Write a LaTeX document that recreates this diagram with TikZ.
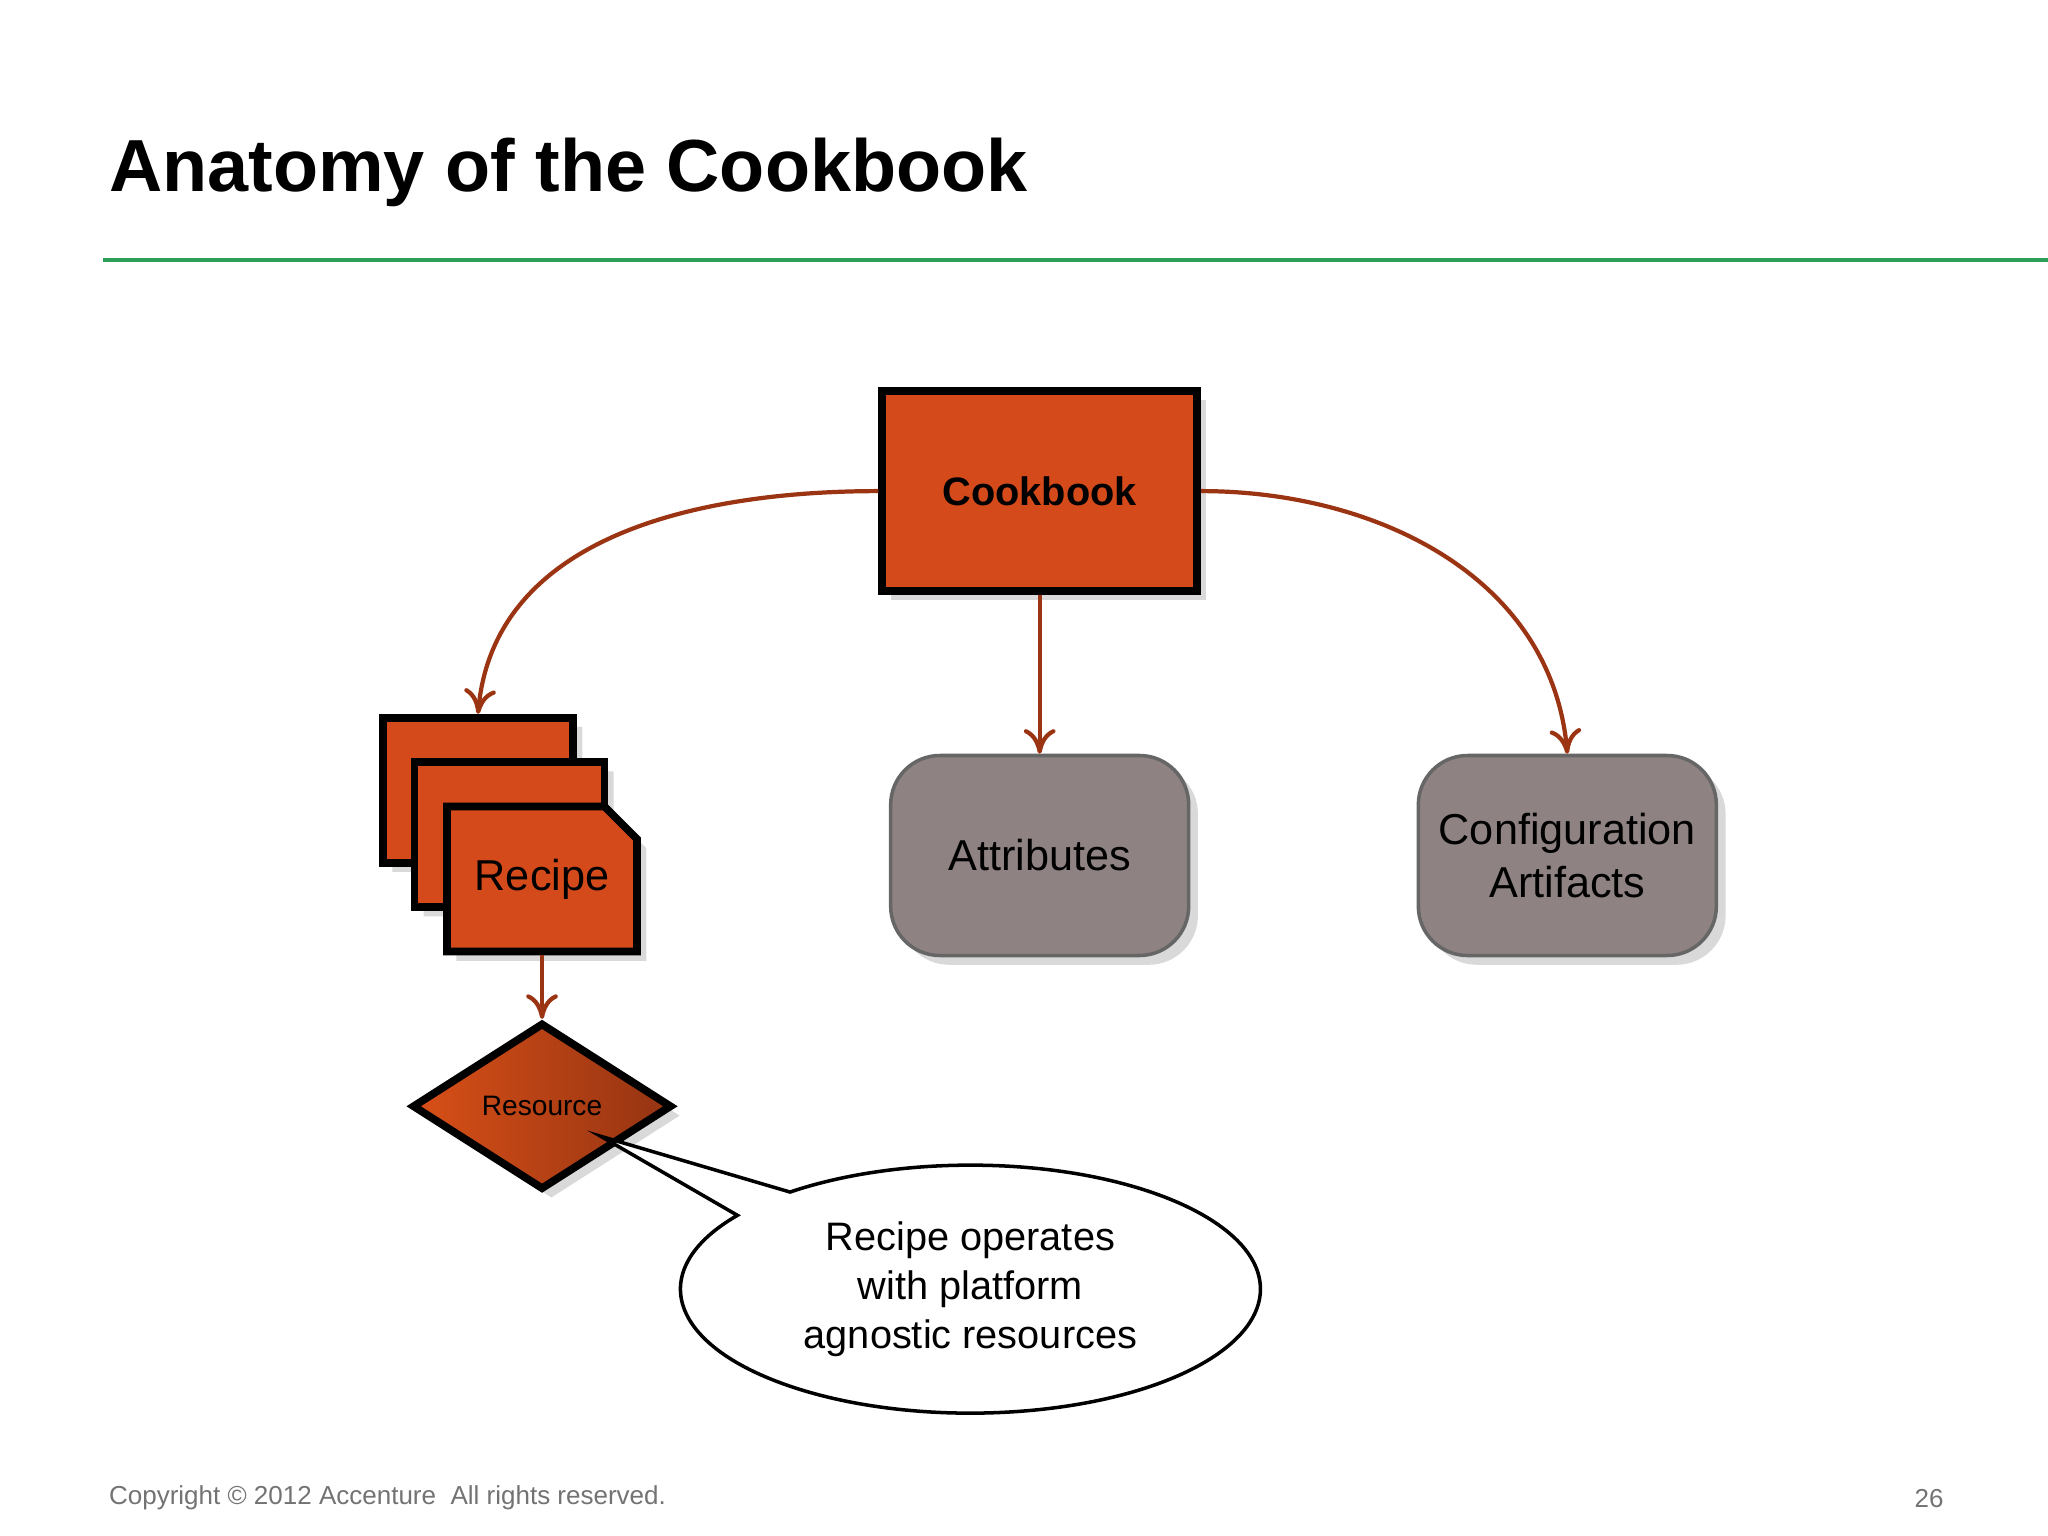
\documentclass[tikz,border=0pt]{standalone}
\usepackage{fontspec}
\setmainfont{Liberation Sans}
\usetikzlibrary{shapes.geometric,shapes.misc,shapes.callouts,shadows,arrows.meta}
\definecolor{rost}{HTML}{D44A1A}
\definecolor{grau}{HTML}{8E8282}
\definecolor{pfeilrot}{HTML}{9A3412}
\definecolor{gruen}{HTML}{2E9E5B}
\tikzset{
	kasten/.style={draw=black,line width=2.2pt,fill=rost,drop shadow={opacity=0.3}},
	runde/.style={draw=black!60,line width=1pt,fill=grau,rounded corners=14pt,
		minimum width=2.98cm,minimum height=2cm,drop shadow={opacity=0.3},
		font=\fontsize{12.3}{15}\selectfont,align=center},
	rezept/.style={kasten,chamfered rectangle,chamfered rectangle corners=north east,
		chamfered rectangle xsep=0.25cm,minimum width=1.9cm,minimum height=1.45cm,inner sep=0pt},
}
\begin{document}
\begin{tikzpicture}[x=0.013061cm,y=-0.013061cm,>={To[length=7pt,width=9pt]}]
\def\pfeil#1#2{
	\draw[->,pfeilrot,line width=1.2pt] #1 -- #2;
}
\useasboundingbox (0,0) rectangle (1568,1176);
\node[anchor=west,font=\bfseries\fontsize{21}{25}\selectfont] (titel) at (74,132) {Anatomy of the Cookbook};
\coordinate (l0) at (79,199);
\coordinate (l1) at (1568,199);
\draw[gruen,line width=1.2pt] (l0) -- (l1);
\node[kasten,minimum width=3.15cm,minimum height=2cm,font=\bfseries\fontsize{11.3}{14}\selectfont] (cookbook) at (796,376) {Cookbook};
\node[runde] (attr) at (796,655) {Attributes};
\node[runde] (conf) at (1200,655) {Configuration\\Artifacts};
\node[rezept] (r1) at (366,605) {};
\node[rezept] (r2) at (390,639) {};
\node[rezept,font=\fontsize{12.3}{15}\selectfont] (r3) at (415,673) {Recipe};
\node[diamond,draw=black,line width=2.2pt,shading=axis,left color=rost!90!orange,right color=rost!70!black,
	minimum width=2.6cm,minimum height=1.67cm,inner sep=0pt,aspect=1.55,
	font=\fontsize{8}{10}\selectfont,drop shadow={opacity=0.3}] (res) at (415,847) {Resource};
\node[ellipse callout,draw=black,line width=1pt,fill=white,minimum width=5.8cm,minimum height=2.48cm,
	callout absolute pointer={(res.center)+(45,23)},align=center,font=\fontsize{11.3}{14}\selectfont]
	(blase) at (743,987) {Recipe operates\\with platform\\agnostic resources};
\draw[->,pfeilrot,line width=1.2pt] (cookbook.west) to[out=180,in=85] (r1.north);
\draw[->,pfeilrot,line width=1.2pt] (cookbook.east) to[out=0,in=95] (conf.north);
\pfeil{(cookbook.south)}{(attr.north)}
\pfeil{(r3.south)}{(res.north)}
\node[anchor=west,text=black!55,font=\fontsize{7.4}{9}\selectfont] (copy) at (74,1147) {Copyright \textcopyright\ 2012 Accenture\ \ All rights reserved.};
\node[text=black!55,font=\fontsize{7.4}{9}\selectfont] (seite) at (1477,1147) {26};
\end{tikzpicture}
\end{document}
